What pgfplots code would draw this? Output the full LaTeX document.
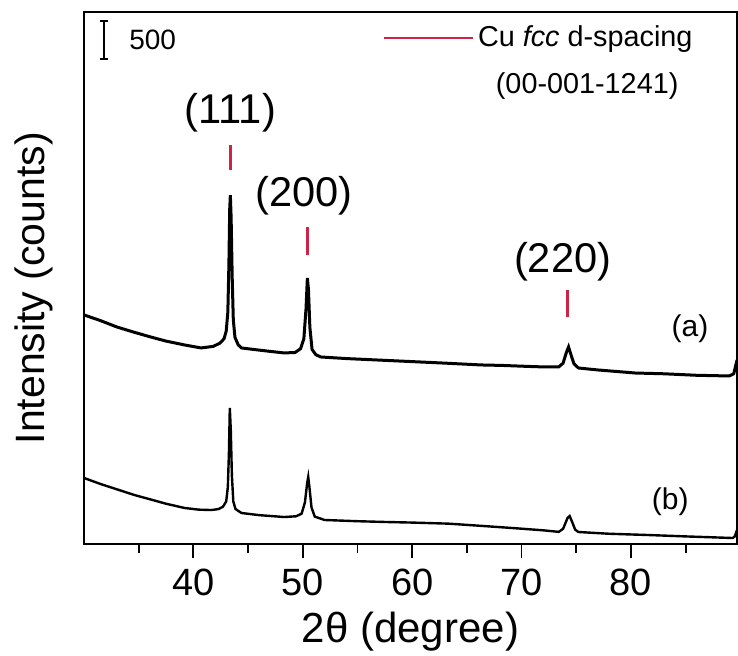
\documentclass[border=0pt]{standalone}
\usepackage{pgfplots}
\pgfplotsset{compat=1.18}
\usepackage{fontspec}
\setmainfont{Liberation Sans}
\definecolor{cured}{RGB}{205,35,70}

\pgfplotstableread{
x y
30.0 3014
31.5 2940
33.0 2856
34.5 2790
36.1 2724
37.5 2670
39.2 2619
40.7 2580
41.8 2600
42.4 2640
42.8 2700
43.0 2800
43.15 3050
43.25 3700
43.32 4400
43.38 4590
43.45 4300
43.55 3500
43.65 2950
43.8 2720
44.1 2620
44.4 2580
45.5 2560
47.0 2535
48.3 2514
49.3 2520
49.8 2570
50.1 2700
50.3 3100
50.42 3500
50.52 3350
50.65 2850
50.85 2560
51.2 2490
51.65 2461
54 2440
57 2420
60 2400
63 2380
66.3 2356
68.2 2350
70 2340
72 2330
73.4 2330
73.8 2380
74.1 2520
74.3 2593
74.5 2500
74.8 2370
75.2 2316
77 2290
80.4 2250
83 2240
86 2220
89.0 2211
89.4 2240
89.7 2420
}\curvea

\pgfplotstableread{
x y
30.0 869
31.5 790
33.0 720
34.6 645
36.0 590
37.5 530
39.2 474
40.5 452
41.65 447
42.3 460
42.7 490
43.0 560
43.15 750
43.25 1200
43.33 1790
43.42 1500
43.52 900
43.65 560
43.85 460
44.4 408
46 380
48.3 355
49.4 365
49.9 400
50.2 550
50.4 800
50.5 882
50.6 760
50.8 480
51.1 360
52.0 316
55 300
57.5 290
60 282
63.3 268
66 242
69.4 208
72 180
73.4 160
73.8 200
74.2 340
74.4 368
74.6 300
74.9 190
75.2 158
78 135
81.65 118
85 100
89.3 79
89.5 100
89.7 184
}\curveb

\begin{document}
\begin{tikzpicture}
\begin{axis}[
  scale only axis, width=326.5pt, height=266pt,
  xmin=30, xmax=89.7, ymin=0, ymax=7000,
  axis line style={line width=1.1pt},
  xtick={40,50,60,70,80}, minor xtick={35,45,55,65,75,85},
  xtick pos=bottom, tick align=outside,
  ytick=\empty,
  major tick length=7pt, minor tick length=4.5pt,
  tick style={black, line width=0.9pt},
  /pgf/number format/assume math mode=true,
  ticklabel style={font=\fontsize{19}{22}\selectfont},
  xticklabel style={anchor=north, yshift=-2pt},
  xlabel={2θ (degree)},
  ylabel={Intensity (counts)},
  xlabel style={font=\fontsize{21}{24}\selectfont, at={(axis description cs:0.5,-0.165)}, anchor=center},
  ylabel style={font=\fontsize{20.5}{24}\selectfont, at={(axis description cs:-0.0766,0.481)}, anchor=center, rotate=0},
  legend style={at={(axis cs:57.3,6660)}, anchor=west, draw=none, fill=none, inner sep=0pt, outer sep=0pt,
    font=\fontsize{14.4}{17}\selectfont, row sep=0pt},
  legend image code/.code={\draw[#1] (0pt,0pt) -- (44.5pt,0pt);},
  legend cell align=left,
]
\addplot[black, line width=1.5pt, forget plot] table {\curvea};
\addplot[black, line width=1.2pt, forget plot] table {\curveb};
\addplot[cured, line width=1.2pt] coordinates {(43.38,4920) (43.38,5250)};
\addlegendentry{Cu \textit{fcc} d-spacing}
\addplot[cured, line width=1.2pt, forget plot] coordinates {(50.45,3800) (50.45,4170)};
\addplot[cured, line width=1.2pt, forget plot] coordinates {(74.2,2990) (74.2,3340)};
% scale bar
\draw[black, line width=0.8pt] (axis cs:31.83,6382) -- (axis cs:31.83,6883);
\draw[black, line width=0.8pt] (axis cs:31.5,6382) -- (axis cs:32.16,6382);
\draw[black, line width=0.8pt] (axis cs:31.5,6883) -- (axis cs:32.16,6883);
\node[anchor=west, font=\fontsize{14}{16}\selectfont] at (axis cs:33.5,6632) {500};
\node[font=\fontsize{14.4}{17}\selectfont] at (axis cs:76.0,6030) {(00-001-1241)};
\node[font=\fontsize{20.8}{24}\selectfont] at (axis cs:43.39,5672) {(111)};
\node[font=\fontsize{20.8}{24}\selectfont] at (axis cs:50.09,4580) {(200)};
\node[font=\fontsize{20.8}{24}\selectfont] at (axis cs:73.76,3711) {(220)};
\node[font=\fontsize{15}{18}\selectfont] at (axis cs:85.4,2829) {(a)};
\node[font=\fontsize{15}{18}\selectfont] at (axis cs:83.6,560) {(b)};
\end{axis}
\pgfresetboundingbox
\path[use as bounding box] ([shift={(-42pt,-55.5pt)}]current axis.south west) rectangle ([shift={(327pt,272pt)}]current axis.south west);
\end{tikzpicture}
\end{document}
